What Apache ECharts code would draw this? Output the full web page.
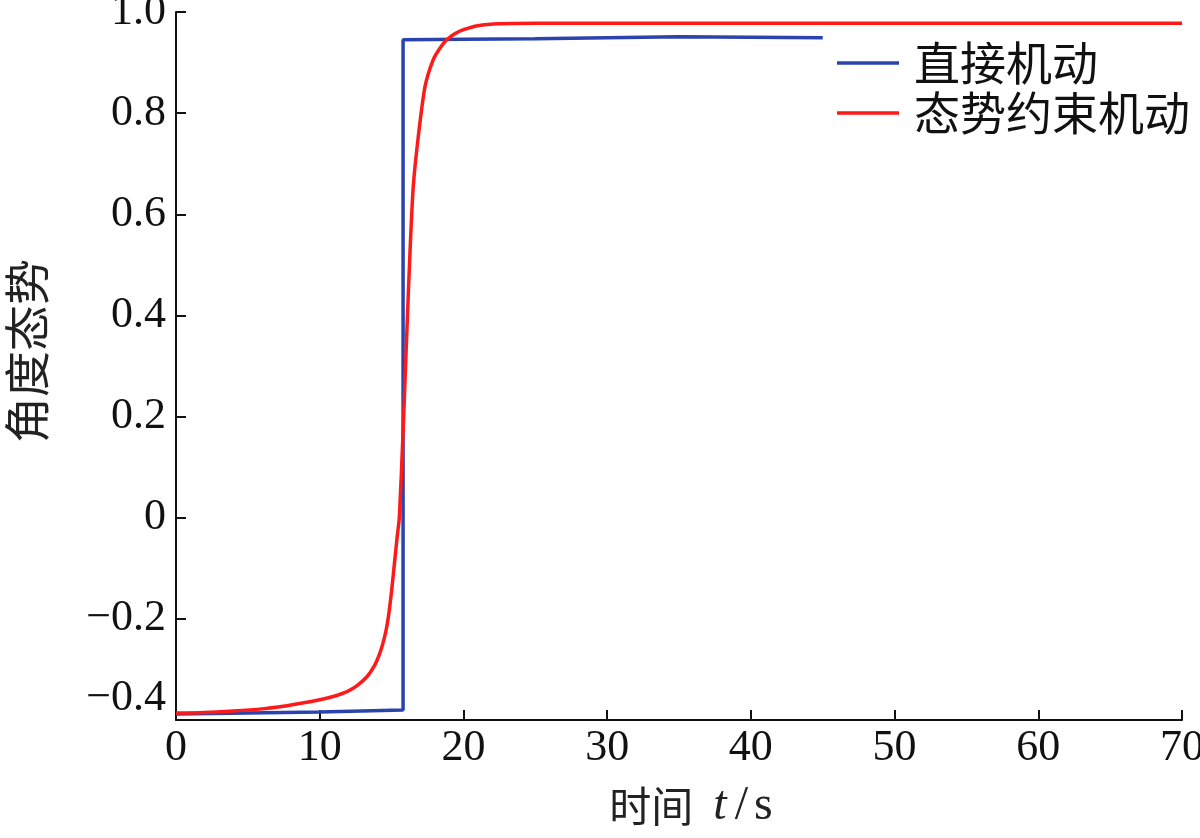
<!DOCTYPE html>
<html>
<head>
<meta charset="utf-8">
<script src="https://cdn.jsdelivr.net/npm/echarts@6/dist/echarts.min.js"></script>
<style>
html,body{margin:0;padding:0;background:#fff;}
#chart{width:1200px;height:838px;}
</style>
</head>
<body>
<div id="chart"></div>
<script>
// Data (time t in seconds, angle attitude)
const seriesNames = ['直接机动', '态势约束机动'];
const directT = [0, 5, 10, 15.8, 15.8, 20, 25, 30, 35, 40, 45];
const directV = [-0.388, -0.386, -0.384, -0.380, 0.945, 0.946, 0.947, 0.949, 0.951, 0.950, 0.949];
const constrainedT = [0, 2, 4, 6, 7.24, 8.5, 10, 11, 11.9, 12.6, 13.3, 13.8, 14.1, 14.35, 14.6, 14.8, 15.0, 15.2, 15.4, 15.54, 15.8, 16.05, 16.28, 16.51, 16.86, 17.33, 17.9, 18.4, 18.84, 19.4, 20, 21, 22.5, 25, 30, 40, 50, 60, 70];
const constrainedV = [-0.386, -0.385, -0.382, -0.378, -0.374, -0.368, -0.360, -0.353, -0.344, -0.332, -0.314, -0.293, -0.274, -0.253, -0.225, -0.192, -0.145, -0.090, -0.035, 0.0, 0.17, 0.358, 0.524, 0.655, 0.754, 0.853, 0.906, 0.930, 0.945, 0.957, 0.965, 0.973, 0.977, 0.978, 0.978, 0.978, 0.978, 0.978, 0.978];
const xTicks = [0, 10, 20, 30, 40, 50, 60, 70];
const yTicks = [-0.4, -0.2, 0, 0.2, 0.4, 0.6, 0.8, 1.0];

const zip = (a, b) => a.map((v, i) => [v, b[i]]);
const serif = '"Liberation Serif", "DejaVu Serif", serif';
const cjk = '"Noto Sans CJK SC", sans-serif';

const chart = echarts.init(document.getElementById('chart'), null, {renderer: 'canvas'});
chart.setOption({
  animation: false,
  backgroundColor: '#fff',
  grid: {left: 176, right: 18, top: 12, bottom: 118, containLabel: false, outerBoundsMode: 'none'},
  legend: {
    orient: 'vertical',
    left: 832,
    top: 35,
    icon: 'rect',
    itemWidth: 62,
    itemHeight: 3.5,
    itemGap: 4,
    data: seriesNames,
    textStyle: {fontFamily: cjk, fontSize: 46, color: '#111', padding: [0, 0, 0, 10], lineHeight: 46}
  },
  xAxis: {
    type: 'value',
    min: 0, max: 70, interval: 10,
    name: '{a|时间}{b|t}{c|/}{d|s}',
    nameLocation: 'middle',
    nameGap: 62,
    nameTextStyle: {
      rich: {
        a: {fontFamily: cjk, fontSize: 42, color: '#222', padding: [0, 0, 0, 24]},
        b: {fontFamily: serif, fontSize: 48, fontStyle: 'italic', color: '#222', padding: [0, 8, 0, 20]},
        c: {fontFamily: serif, fontSize: 48, color: '#222', padding: [0, 6, 0, 0]},
        d: {fontFamily: serif, fontSize: 48, color: '#222'}
      }
    },
    axisLine: {show: true, onZero: false, lineStyle: {color: '#111', width: 2}},
    axisTick: {show: true, inside: true, length: 10, lineStyle: {color: '#111', width: 2}},
    axisLabel: {fontFamily: serif, fontSize: 44, color: '#111', margin: 6,
      formatter: v => xTicks.includes(v) ? String(v) : ''},
    splitLine: {show: false}
  },
  yAxis: {
    type: 'value',
    min: -0.4, max: 1.0, interval: 0.2,
    name: '角度态势',
    nameLocation: 'middle',
    nameGap: 126,
    nameRotate: 90,
    nameTextStyle: {fontFamily: cjk, fontSize: 46, color: '#222', padding: [0, 0, 0, 30]},
    axisLine: {show: true, onZero: false, lineStyle: {color: '#111', width: 2}},
    axisTick: {show: true, inside: true, length: 10, lineStyle: {color: '#111', width: 2}},
    axisLabel: {fontFamily: serif, fontSize: 44, color: '#111', margin: 10,
      verticalAlignMinLabel: 'bottom',
      formatter: v => {
        const t = yTicks.find(k => Math.abs(k - v) < 1e-6);
        if (t === undefined) return '';
        let s = (Math.abs(t) < 1e-9) ? '0' : t.toFixed(1);
        return s.replace('-', '\u2212');
      }
    },
    splitLine: {show: false}
  },
  series: [
    {
      name: seriesNames[0], type: 'line', data: zip(directT, directV),
      showSymbol: false, symbol: 'none',
      lineStyle: {color: '#2b43ad', width: 3.5}, itemStyle: {color: '#2b43ad'}, z: 2
    },
    {
      name: seriesNames[1], type: 'line', data: zip(constrainedT, constrainedV),
      showSymbol: false, symbol: 'none', smooth: 0.25,
      lineStyle: {color: '#ff1a1a', width: 3.5}, itemStyle: {color: '#ff1a1a'}, z: 3
    }
  ]
});
</script>
</body>
</html>
